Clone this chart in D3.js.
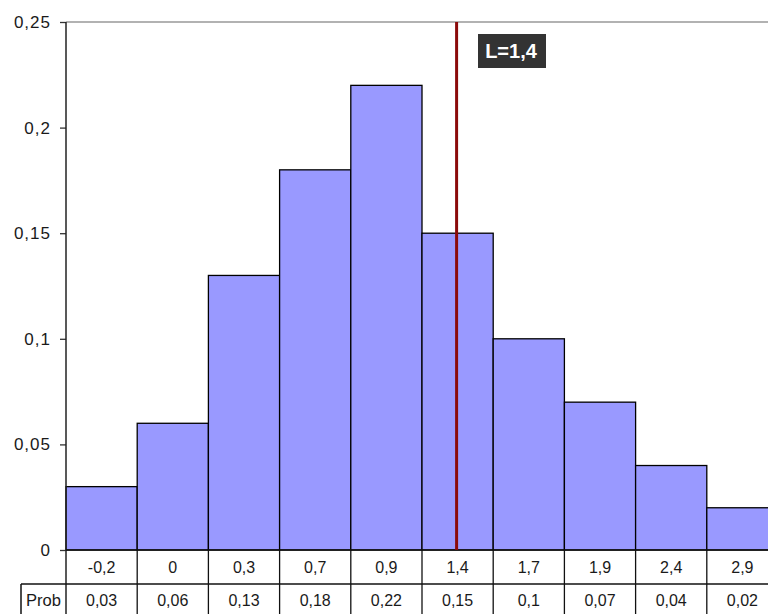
<!DOCTYPE html>
<html>
<head>
<meta charset="utf-8">
<script src="https://cdn.jsdelivr.net/npm/d3@7"></script>
<style>
  body { margin: 0; background: #fff; }
  svg { display: block; font-family: "Liberation Sans", Arial, sans-serif; }
</style>
</head>
<body>
<svg id="chart" width="768" height="614"></svg>
<script>
const categories = ["-0,2", "0", "0,3", "0,7", "0,9", "1,4", "1,7", "1,9", "2,4", "2,9"];
const probValues = [0.03, 0.06, 0.13, 0.18, 0.22, 0.15, 0.1, 0.07, 0.04, 0.02];
const probLabels = ["0,03", "0,06", "0,13", "0,18", "0,22", "0,15", "0,1", "0,07", "0,04", "0,02"];
const yTicks = [0, 0.05, 0.1, 0.15, 0.2, 0.25];
const markerCategory = "1,4";
const markerLabel = "L=1,4";
const rowHeader = "Prob";

const svg = d3.select("#chart");
const plotLeft = 66, plotTop = 22, plotBottom = 550, bandW = 71.2;
const plotRight = plotLeft + bandW * categories.length;

const x = d3.scaleBand().domain(categories).range([plotLeft, plotRight]).paddingInner(0).paddingOuter(0);
const y = d3.scaleLinear().domain([0, 0.25]).range([plotBottom, plotTop]);
const loc = d3.formatLocale({decimal: ",", thousands: ".", grouping: [3], currency: ["", ""]});
const fmt = loc.format("~g");

// top frame line
svg.append("line").attr("x1", plotLeft).attr("x2", 768).attr("y1", plotTop).attr("y2", plotTop)
  .attr("stroke", "#999").attr("stroke-width", 1.5);

// bars
svg.append("g").selectAll("rect").data(probValues).join("rect")
  .attr("x", (d, i) => x(categories[i]))
  .attr("y", d => y(d))
  .attr("width", x.bandwidth())
  .attr("height", d => y(0) - y(d))
  .attr("fill", "#9999ff")
  .attr("stroke", "#000")
  .attr("stroke-width", 1.3);

// y axis
const yAxis = d3.axisLeft(y).tickValues(yTicks).tickFormat(fmt).tickSize(6).tickPadding(10);
const ga = svg.append("g").attr("transform", `translate(${plotLeft},0)`).call(yAxis);
ga.select(".domain").remove();
ga.selectAll(".tick line").attr("stroke", "#333").attr("stroke-width", 1.3);
ga.selectAll(".tick text").attr("font-size", 17).attr("fill", "#1a1a1a")
  .attr("letter-spacing", 1).attr("dx", 1)
  .attr("font-family", "'Liberation Sans', Arial, sans-serif");
svg.append("line").attr("x1", plotLeft).attr("x2", plotLeft).attr("y1", plotTop).attr("y2", 614)
  .attr("stroke", "#222").attr("stroke-width", 1.5);

// table
const row1 = plotBottom, row2 = 584;
svg.append("line").attr("x1", plotLeft).attr("x2", 768).attr("y1", row1).attr("y2", row1)
  .attr("stroke", "#111").attr("stroke-width", 1.5);
svg.append("line").attr("x1", 21).attr("x2", 768).attr("y1", row2).attr("y2", row2)
  .attr("stroke", "#111").attr("stroke-width", 1.5);
svg.append("line").attr("x1", 21).attr("x2", 21).attr("y1", row2).attr("y2", 614)
  .attr("stroke", "#111").attr("stroke-width", 1.5);
svg.append("g").selectAll("line").data(categories).join("line")
  .attr("x1", d => x(d) + x.bandwidth()).attr("x2", d => x(d) + x.bandwidth())
  .attr("y1", row1).attr("y2", 614)
  .attr("stroke", "#111").attr("stroke-width", 1.3);
svg.append("g").selectAll("text").data(categories).join("text")
  .attr("x", d => x(d) + x.bandwidth() / 2)
  .attr("y", (row1 + row2) / 2 + 6)
  .attr("text-anchor", "middle").attr("font-size", 16).attr("fill", "#1a1a1a")
  .text(d => d);
svg.append("g").selectAll("text").data(probLabels).join("text")
  .attr("x", (d, i) => x(categories[i]) + x.bandwidth() / 2)
  .attr("y", 606)
  .attr("text-anchor", "middle").attr("font-size", 16).attr("fill", "#1a1a1a")
  .text(d => d);
svg.append("text").attr("x", 43.5).attr("y", 606).attr("text-anchor", "middle")
  .attr("font-size", 16).attr("fill", "#1a1a1a").attr("textLength", 35)
  .attr("lengthAdjust", "spacingAndGlyphs").text(rowHeader);

// marker line
const mx = x(markerCategory) + x.bandwidth() / 2 - 1;
svg.append("line").attr("x1", mx).attr("x2", mx).attr("y1", plotTop).attr("y2", plotBottom)
  .attr("stroke", "#8b0a0a").attr("stroke-width", 3);
svg.append("rect").attr("x", 478).attr("y", 34).attr("width", 68).attr("height", 34)
  .attr("fill", "#333");
svg.append("text").attr("x", 511).attr("y", 58).attr("text-anchor", "middle")
  .attr("font-size", 20).attr("font-weight", "bold").attr("fill", "#fff")
  .text(markerLabel);
</script>
</body>
</html>
